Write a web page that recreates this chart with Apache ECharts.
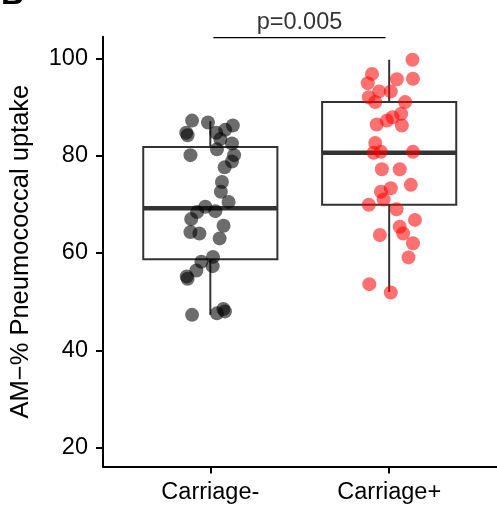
<!DOCTYPE html>
<html>
<head>
<meta charset="utf-8">
<script src="https://cdn.jsdelivr.net/npm/echarts@6/dist/echarts.min.js"></script>
<style>
html,body{margin:0;padding:0;background:#fff;}
#chart{width:497px;height:508px;}
</style>
</head>
<body>
<div id="chart"></div>
<script>
// ---- data ----
const categories = ['Carriage-', 'Carriage+'];
const yTicks = [20, 40, 60, 80, 100];
const yTitle = 'AM\u2212% Pneumococcal uptake';
const pLabel = 'p=0.005';
const panelLetter = 'B';

// Carriage- points (value) and horizontal jitter (category units)
const negValues = [87.2, 86.8, 84.7, 84.2, 86.2, 85.3, 84.7, 83.4, 82.5, 80.1,
                   81.3, 80.1, 78.8, 77.6, 74.6, 72.6, 70.5, 69.5, 68.6, 68.4,
                   67.0, 65.6, 64.3, 64.0, 63.0, 59.2, 58.2, 57.3, 56.4, 55.2,
                   54.7, 47.3, 47.6, 48.5, 48.0];
const negJitter = [-0.102, -0.013, -0.135, -0.127, 0.126, 0.083, 0.033, 0.056, 0.121, -0.111,
                   0.037, 0.133, 0.121, 0.080, 0.065, 0.059, 0.102, -0.028, 0.028, -0.074,
                   -0.107, 0.074, -0.111, -0.061, 0.052, 0.015, -0.050, 0.013, -0.078, -0.132,
                   -0.127, -0.102, 0.037, 0.073, 0.082];

// Carriage+ points
const posValues = [99.7, 96.8, 94.9, 95.8, 95.7, 93.2, 93.2, 92.0, 91.0, 91.0,
                   88.6, 87.9, 87.2, 86.2, 86.4, 82.6, 80.6, 80.8, 80.8, 77.2,
                   77.2, 74.0, 73.3, 72.6, 71.0, 69.9, 69.0, 66.8, 65.4, 64.0,
                   63.7, 62.0, 59.1, 53.6, 51.9];
const posJitter = [0.130, -0.096, -0.120, 0.133, 0.043, -0.056, 0.009, -0.114, -0.078, 0.089,
                   0.067, 0.019, -0.013, 0.071, -0.070, -0.078, -0.087, -0.046, 0.133, -0.041,
                   0.059, 0.121, 0.009, -0.046, -0.031, -0.114, 0.041, 0.144, 0.059, 0.078,
                   -0.052, 0.133, 0.108, -0.111, 0.009];

// box statistics per category
const boxLow    = [47.3, 52.0];
const boxQ1     = [58.7, 69.9];
const boxMedian = [69.2, 80.6];
const boxQ3     = [81.8, 91.0];
const boxHigh   = [87.1, 99.7];

// significance bracket
const bracketX = [1.017, 1.98];
const bracketY = 104.23;

// ---- chart ----
const FONT = '"Liberation Sans", Arial, Helvetica, sans-serif';
const chart = echarts.init(document.getElementById('chart'), null, {renderer: 'canvas'});

const boxData = categories.map((c, i) => [i + 1, boxLow[i], boxQ1[i], boxMedian[i], boxQ3[i], boxHigh[i]]);
const negData = negValues.map((v, i) => [1 + negJitter[i], v]);
const posData = posValues.map((v, i) => [2 + posJitter[i], v]);

const BOX_HALF = 0.375;
const BOX_COLOR = '#333333';

function renderBox(params, api) {
  const x = api.value(0);
  const lo = api.value(1), q1 = api.value(2), med = api.value(3), q3 = api.value(4), hi = api.value(5);
  const tl = api.coord([x - BOX_HALF, q3]);
  const br = api.coord([x + BOX_HALF, q1]);
  const mL = api.coord([x - BOX_HALF, med]);
  const mR = api.coord([x + BOX_HALF, med]);
  const pLo = api.coord([x, lo]);
  const pQ1 = api.coord([x, q1]);
  const pQ3 = api.coord([x, q3]);
  const pHi = api.coord([x, hi]);
  return {
    type: 'group',
    children: [
      {type: 'line', shape: {x1: pLo[0], y1: pLo[1], x2: pQ1[0], y2: pQ1[1]}, style: {stroke: BOX_COLOR, lineWidth: 2}},
      {type: 'line', shape: {x1: pQ3[0], y1: pQ3[1], x2: pHi[0], y2: pHi[1]}, style: {stroke: BOX_COLOR, lineWidth: 2}},
      {type: 'rect', shape: {x: tl[0], y: tl[1], width: br[0] - tl[0], height: br[1] - tl[1]},
       style: {fill: '#ffffff', stroke: BOX_COLOR, lineWidth: 2}},
      {type: 'line', shape: {x1: mL[0], y1: mL[1], x2: mR[0], y2: mR[1]}, style: {stroke: BOX_COLOR, lineWidth: 4.5}}
    ]
  };
}

chart.setOption({
  animation: false,
  backgroundColor: '#ffffff',
  textStyle: {fontFamily: FONT},
  grid: {left: 100.5, right: 0.5, top: 36.7, bottom: 41.5, containLabel: false},
  xAxis: {
    type: 'value',
    min: 0.4, max: 2.6,
    splitLine: {show: false},
    axisLine: {show: true, onZero: false, lineStyle: {color: '#000', width: 2}},
    axisTick: {show: true, customValues: [1, 2], length: 7, lineStyle: {color: '#000', width: 2}},
    axisLabel: {
      show: true, customValues: [1, 2], margin: 14,
      fontSize: 23.5, color: '#000', fontFamily: FONT,
      formatter: v => categories[Math.round(v) - 1] || ''
    }
  },
  yAxis: {
    type: 'value',
    min: 16.14, max: 104.44,
    name: yTitle,
    nameLocation: 'middle',
    nameRotate: 90,
    nameGap: 69,
    nameTextStyle: {fontSize: 25.5, color: '#000', fontFamily: FONT},
    splitLine: {show: false},
    axisLine: {show: true, lineStyle: {color: '#000', width: 2}},
    axisTick: {show: true, customValues: yTicks, length: 7, lineStyle: {color: '#000', width: 2}},
    axisLabel: {show: true, customValues: yTicks, margin: 15, fontSize: 23.5, color: '#000', fontFamily: FONT}
  },
  graphic: [
    {type: 'text', left: 1, top: -21, style: {text: panelLetter, fontSize: 32, fontWeight: 'bold', fill: '#000', fontFamily: FONT}}
  ],
  series: [
    {
      type: 'custom',
      name: 'box',
      renderItem: renderBox,
      encode: {x: 0, y: [1, 2, 3, 4, 5]},
      data: boxData,
      z: 1
    },
    {
      type: 'scatter',
      name: categories[0],
      data: negData,
      symbolSize: 14,
      itemStyle: {color: 'rgba(0,0,0,0.72)'},
      z: 3
    },
    {
      type: 'scatter',
      name: categories[1],
      data: posData,
      symbolSize: 14,
      itemStyle: {color: 'rgba(255,0,0,0.70)'},
      z: 3
    },
    {
      type: 'line',
      name: 'bracket',
      data: bracketX.map(x => [x, bracketY]),
      symbol: 'none',
      clip: false,
      lineStyle: {color: '#000', width: 1.2},
      z: 4
    },
    {
      type: 'scatter',
      name: 'pvalue',
      data: [[(bracketX[0] + bracketX[1]) / 2, bracketY]],
      symbolSize: 0,
      clip: false,
      label: {show: true, position: 'top', distance: 3, formatter: pLabel, fontSize: 23.5, color: '#000', fontFamily: FONT},
      z: 4
    }
  ]
});
</script>
</body>
</html>
